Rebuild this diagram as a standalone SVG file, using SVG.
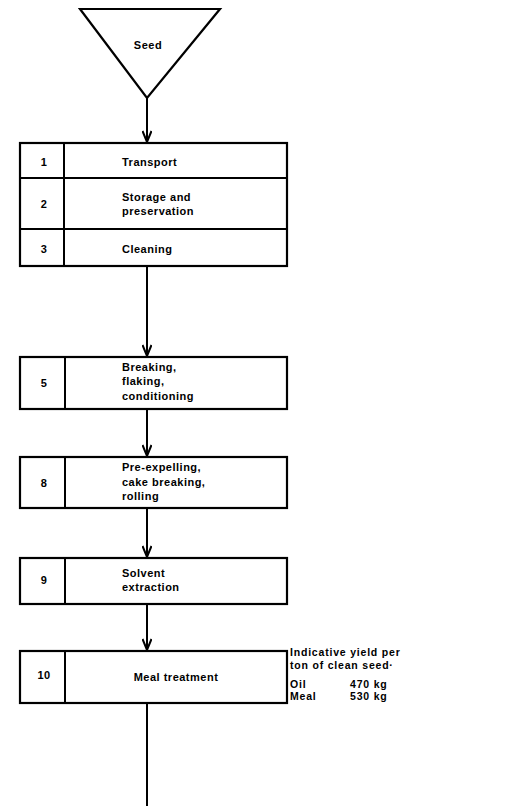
<svg xmlns="http://www.w3.org/2000/svg" width="510" height="806" viewBox="0 0 510 806">
<style>
.b{fill:#fff;stroke:#000;stroke-width:2.2}
.l{stroke:#000;stroke-width:2;fill:none}
text{font-family:"Liberation Sans",Arial,sans-serif;font-weight:bold;font-size:11px;fill:#000;letter-spacing:0.5px}
.n{text-anchor:middle}
.s{font-size:10.5px;letter-spacing:0.8px}
</style>
<defs>
<marker id="ah" viewBox="0 0 12 10" refX="12" refY="5" markerWidth="12" markerHeight="10" markerUnits="userSpaceOnUse" orient="auto">
<path d="M1,0.5 L12,5 L1,9.5" fill="none" stroke="#000" stroke-width="2"/>
</marker>
</defs>
<g id="connectors">
<line class="l" x1="147" y1="98" x2="147" y2="142" marker-end="url(#ah)"/>
<line class="l" x1="147" y1="266" x2="147" y2="356" marker-end="url(#ah)"/>
<line class="l" x1="147" y1="409" x2="147" y2="456" marker-end="url(#ah)"/>
<line class="l" x1="147" y1="508" x2="147" y2="557" marker-end="url(#ah)"/>
<line class="l" x1="147" y1="604" x2="147" y2="650" marker-end="url(#ah)"/>
<line class="l" x1="147" y1="703" x2="147" y2="806"/>
</g>
<g id="seed">
<polygon class="b" points="80,9 220,9 147,98"/>
<text class="n" x="148" y="49">Seed</text>
</g>
<g id="steps1-3">
<rect class="b" x="20" y="143" width="267" height="123"/>
<line class="l" x1="64" y1="143" x2="64" y2="266"/>
<line class="l" x1="20" y1="178" x2="287" y2="178"/>
<line class="l" x1="20" y1="229" x2="287" y2="229"/>
<text class="n" x="44" y="166">1</text>
<text x="122" y="166">Transport</text>
<text class="n" x="44" y="208">2</text>
<text x="122" y="201">Storage and</text>
<text x="122" y="215">preservation</text>
<text class="n" x="44" y="253">3</text>
<text x="122" y="253">Cleaning</text>
</g>
<g id="step5">
<rect class="b" x="20" y="357" width="267" height="52"/>
<line class="l" x1="65" y1="357" x2="65" y2="409"/>
<text class="n" x="44" y="387">5</text>
<text x="122" y="371">Breaking,</text>
<text x="122" y="385">flaking,</text>
<text x="122" y="400">conditioning</text>
</g>
<g id="step8">
<rect class="b" x="20" y="457" width="267" height="51"/>
<line class="l" x1="65" y1="457" x2="65" y2="508"/>
<text class="n" x="44" y="487">8</text>
<text x="122" y="471">Pre-expelling,</text>
<text x="122" y="486">cake breaking,</text>
<text x="122" y="500">rolling</text>
</g>
<g id="step9">
<rect class="b" x="20" y="558" width="267" height="46"/>
<line class="l" x1="65" y1="558" x2="65" y2="604"/>
<text class="n" x="44" y="584">9</text>
<text x="122" y="577">Solvent</text>
<text x="122" y="591">extraction</text>
</g>
<g id="step10">
<rect class="b" x="20" y="651" width="267" height="52"/>
<line class="l" x1="65" y1="651" x2="65" y2="703"/>
<text class="n" x="44" y="679">10</text>
<text class="n" x="176" y="681">Meal treatment</text>
</g>
<g id="yield">
<text class="s" x="290" y="656">Indicative yield per</text>
<text class="s" x="290" y="669">ton of clean seed·</text>
<text class="s" x="290" y="688">Oil</text>
<text class="s" x="350" y="688">470 kg</text>
<text class="s" x="290" y="700">Meal</text>
<text class="s" x="350" y="700">530 kg</text>
</g>
</svg>
